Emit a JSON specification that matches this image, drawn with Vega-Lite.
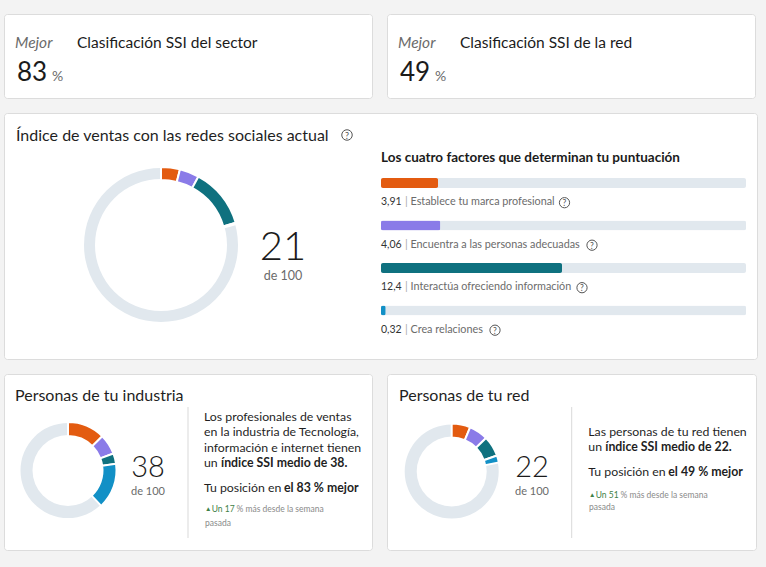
{
  "$schema": "https://vega.github.io/schema/vega-lite/v6.json",
  "background": "#f3f3f3",
  "padding": {"left": 3, "top": 13, "right": 10, "bottom": 17},
  "spacing": 13,
  "config": {
    "view": {"fill": "white", "stroke": "#dcdcdc", "cornerRadius": 3},
    "font": "Lato",
    "text": {"font": "Lato"},
    "locale": {"number": {"decimal": ",", "thousands": ".", "grouping": [3], "currency": ["", " €"]}}
  },
  "datasets": {
    "factores": [
      {"factor": "Establece tu marca profesional", "n": 1, "puntuacion": 3.91, "maximo": 25},
      {"factor": "Encuentra a las personas adecuadas", "n": 2, "puntuacion": 4.06, "maximo": 25},
      {"factor": "Interactúa ofreciendo información", "n": 3, "puntuacion": 12.4, "maximo": 25},
      {"factor": "Crea relaciones", "n": 4, "puntuacion": 0.32, "maximo": 25}
    ],
    "industria": [
      {"factor": "Establece tu marca profesional", "n": 1, "puntuacion": 12.5},
      {"factor": "Encuentra a las personas adecuadas", "n": 2, "puntuacion": 6.8},
      {"factor": "Interactúa ofreciendo información", "n": 3, "puntuacion": 3.5},
      {"factor": "Crea relaciones", "n": 4, "puntuacion": 15.2}
    ],
    "red": [
      {"factor": "Establece tu marca profesional", "n": 1, "puntuacion": 6.3},
      {"factor": "Encuentra a las personas adecuadas", "n": 2, "puntuacion": 6.4},
      {"factor": "Interactúa ofreciendo información", "n": 3, "puntuacion": 6.9},
      {"factor": "Crea relaciones", "n": 4, "puntuacion": 2.4}
    ]
  },
  "vconcat": [
    {
      "data": {"values": [
        {"tarjeta": "Clasificación SSI del sector", "etiqueta": "Mejor", "percentil": 83, "unidad": "%"},
        {"tarjeta": "Clasificación SSI de la red", "etiqueta": "Mejor", "percentil": 49, "unidad": "%"}
      ]},
      "facet": {"column": {"field": "tarjeta", "type": "nominal", "sort": ["Clasificación SSI del sector", "Clasificación SSI de la red"], "title": null, "header": {"labels": false, "title": null}}},
      "spacing": 13,
      "spec": {
        "width": 368, "height": 84,
        "layer": [
          {"mark": {"type": "text", "align": "left", "baseline": "alphabetic", "fontSize": 15.5, "fontStyle": "italic", "color": "#6b6b6b"},
           "encoding": {"x": {"value": 11}, "y": {"value": 34}, "text": {"field": "etiqueta"}}},
          {"mark": {"type": "text", "align": "left", "baseline": "alphabetic", "fontSize": 26, "color": "#1b1b1b"},
           "encoding": {"x": {"value": 13}, "y": {"value": 67}, "text": {"field": "percentil", "type": "quantitative"}}},
          {"mark": {"type": "text", "align": "left", "baseline": "alphabetic", "fontSize": 14, "color": "#6b6b6b"},
           "encoding": {"x": {"value": 48}, "y": {"value": 67}, "text": {"field": "unidad"}}},
          {"mark": {"type": "text", "align": "left", "baseline": "alphabetic", "fontSize": 15.5, "color": "#1b1b1b"},
           "encoding": {"x": {"value": 73}, "y": {"value": 34}, "text": {"field": "tarjeta"}}}
        ]
      }
    },
    {
      "width": 753, "height": 246,
      "data": {"name": "factores"},
      "layer": [
        {"data": {"values": [{"texto": "Índice de ventas con las redes sociales actual"}]},
         "mark": {"type": "text", "align": "left", "baseline": "alphabetic", "fontSize": 16, "color": "#1f1f1f"},
         "encoding": {"x": {"value": 12}, "y": {"value": 28}, "text": {"field": "texto"}}},
        {"data": {"values": [{"texto": "?"}]},
         "mark": {"type": "point", "shape": "circle", "filled": false, "size": 110, "stroke": "#555", "strokeWidth": 1, "opacity": 1},
         "encoding": {"x": {"value": 343}, "y": {"value": 22}}},
        {"data": {"values": [{"texto": "?"}]},
         "mark": {"type": "text", "align": "center", "baseline": "middle", "fontSize": 9, "color": "#555"},
         "encoding": {"x": {"value": 343}, "y": {"value": 22.5}, "text": {"field": "texto"}}},
        {"data": {"values": [{"total": 100}]},
         "mark": {"type": "arc", "theta": 0, "theta2": 6.2832, "outerRadius": 77, "innerRadius": 66, "color": "#e1e8ee"},
         "encoding": {"x": {"value": 157}, "y": {"value": 132}}},
        {"mark": {"type": "arc", "outerRadius": 78, "innerRadius": 65, "stroke": "white", "strokeWidth": 2},
         "encoding": {
           "x": {"value": 157}, "y": {"value": 132},
           "theta": {"field": "puntuacion", "type": "quantitative", "stack": true, "scale": {"domain": [0, 100]}},
           "order": {"field": "n", "type": "quantitative"},
           "color": {"field": "factor", "type": "nominal", "scale": {"domain": ["Establece tu marca profesional", "Encuentra a las personas adecuadas", "Interactúa ofreciendo información", "Crea relaciones"], "range": ["#e35b10", "#8a7be8", "#0f717f", "#1290c6"]}, "legend": null}
         }},
        {"data": {"values": [{"ssi": 21, "base": "de 100"}]},
         "mark": {"type": "text", "align": "center", "baseline": "alphabetic", "fontSize": 40, "fontWeight": 300, "color": "#1b1b1b"},
         "encoding": {"x": {"value": 279}, "y": {"value": 146.5}, "text": {"field": "ssi", "type": "quantitative"}}},
        {"data": {"values": [{"ssi": 21, "base": "de 100"}]},
         "mark": {"type": "text", "align": "center", "baseline": "alphabetic", "fontSize": 12.5, "color": "#6b6b6b"},
         "encoding": {"x": {"value": 279}, "y": {"value": 167}, "text": {"field": "base"}}},
        {"data": {"values": [{"texto": "Los cuatro factores que determinan tu puntuación"}]},
         "mark": {"type": "text", "align": "left", "baseline": "alphabetic", "fontSize": 13.5, "fontWeight": "bold", "color": "#1b1b1b"},
         "encoding": {"x": {"value": 377}, "y": {"value": 49}, "text": {"field": "texto"}}},
        {"mark": {"type": "bar", "height": 10, "cornerRadius": 2, "color": "#e1e8ee"},
         "encoding": {
           "x": {"field": "maximo", "type": "quantitative", "scale": {"domain": [0, 25], "range": [377, 742], "nice": false, "padding": 0}, "axis": null},
           "y": {"field": "factor", "type": "nominal", "scale": {"domain": ["Establece tu marca profesional", "Encuentra a las personas adecuadas", "Interactúa ofreciendo información", "Crea relaciones"], "range": [48.75, 218.75], "paddingInner": 0, "paddingOuter": 0}, "axis": null}
         }},
        {"mark": {"type": "bar", "height": 10, "cornerRadius": 2},
         "encoding": {
           "x": {"field": "puntuacion", "type": "quantitative"},
           "y": {"field": "factor", "type": "nominal"},
           "color": {"field": "factor", "type": "nominal", "legend": null}
         }},
        {"mark": {"type": "text", "align": "left", "baseline": "alphabetic", "fontSize": 10.5, "color": "#333", "dy": 22},
         "encoding": {"x": {"datum": 0, "type": "quantitative"}, "y": {"field": "factor", "type": "nominal"}, "text": {"field": "puntuacion", "type": "quantitative", "format": ".3"}}},
        {"mark": {"type": "text", "align": "left", "baseline": "alphabetic", "fontSize": 11, "color": "#aaa", "dy": 22, "dx": 24, "text": "|"},
         "encoding": {"x": {"datum": 0, "type": "quantitative"}, "y": {"field": "factor", "type": "nominal"}}},
        {"mark": {"type": "text", "align": "left", "baseline": "alphabetic", "fontSize": 10.8, "color": "#6b6b6b", "dy": 22, "dx": 29.5},
         "encoding": {"x": {"datum": 0, "type": "quantitative"}, "y": {"field": "factor", "type": "nominal"}, "text": {"field": "factor"}}},
        {"transform": [{"filter": {"field": "n", "equal": 1}}],
         "mark": {"type": "point", "shape": "circle", "filled": false, "size": 105, "stroke": "#555", "strokeWidth": 1, "opacity": 1, "xOffset": 183.5, "yOffset": 19.7},
         "encoding": {"x": {"datum": 0, "type": "quantitative"}, "y": {"field": "factor", "type": "nominal"}}},
        {"transform": [{"filter": {"field": "n", "equal": 2}}],
         "mark": {"type": "point", "shape": "circle", "filled": false, "size": 105, "stroke": "#555", "strokeWidth": 1, "opacity": 1, "xOffset": 211, "yOffset": 19.7},
         "encoding": {"x": {"datum": 0, "type": "quantitative"}, "y": {"field": "factor", "type": "nominal"}}},
        {"transform": [{"filter": {"field": "n", "equal": 3}}],
         "mark": {"type": "point", "shape": "circle", "filled": false, "size": 105, "stroke": "#555", "strokeWidth": 1, "opacity": 1, "xOffset": 201, "yOffset": 19.7},
         "encoding": {"x": {"datum": 0, "type": "quantitative"}, "y": {"field": "factor", "type": "nominal"}}},
        {"transform": [{"filter": {"field": "n", "equal": 4}}],
         "mark": {"type": "point", "shape": "circle", "filled": false, "size": 105, "stroke": "#555", "strokeWidth": 1, "opacity": 1, "xOffset": 114, "yOffset": 19.7},
         "encoding": {"x": {"datum": 0, "type": "quantitative"}, "y": {"field": "factor", "type": "nominal"}}},
        {"transform": [{"filter": {"field": "n", "equal": 1}}],
         "mark": {"type": "text", "align": "center", "baseline": "middle", "fontSize": 8.5, "color": "#555", "dx": 183.5, "dy": 20.2, "text": "?"},
         "encoding": {"x": {"datum": 0, "type": "quantitative"}, "y": {"field": "factor", "type": "nominal"}}},
        {"transform": [{"filter": {"field": "n", "equal": 2}}],
         "mark": {"type": "text", "align": "center", "baseline": "middle", "fontSize": 8.5, "color": "#555", "dx": 211, "dy": 20.2, "text": "?"},
         "encoding": {"x": {"datum": 0, "type": "quantitative"}, "y": {"field": "factor", "type": "nominal"}}},
        {"transform": [{"filter": {"field": "n", "equal": 3}}],
         "mark": {"type": "text", "align": "center", "baseline": "middle", "fontSize": 8.5, "color": "#555", "dx": 201, "dy": 20.2, "text": "?"},
         "encoding": {"x": {"datum": 0, "type": "quantitative"}, "y": {"field": "factor", "type": "nominal"}}},
        {"transform": [{"filter": {"field": "n", "equal": 4}}],
         "mark": {"type": "text", "align": "center", "baseline": "middle", "fontSize": 8.5, "color": "#555", "dx": 114, "dy": 20.2, "text": "?"},
         "encoding": {"x": {"datum": 0, "type": "quantitative"}, "y": {"field": "factor", "type": "nominal"}}}
      ]
    },
    {
      "spacing": 13,
      "hconcat": [
        {
          "width": 368, "height": 176,
          "data": {"name": "industria"},
          "layer": [
            {"data": {"values": [{"texto": "Personas de tu industria"}]},
             "mark": {"type": "text", "align": "left", "baseline": "alphabetic", "fontSize": 16, "color": "#1f1f1f"},
             "encoding": {"x": {"value": 11}, "y": {"value": 27}, "text": {"field": "texto"}}},
            {"data": {"values": [{"total": 100}]},
             "mark": {"type": "arc", "theta": 0, "theta2": 6.2832, "outerRadius": 47.5, "innerRadius": 35.5, "color": "#e1e8ee"},
             "encoding": {"x": {"value": 64}, "y": {"value": 96.5}}},
            {"mark": {"type": "arc", "outerRadius": 48.5, "innerRadius": 34.5, "stroke": "white", "strokeWidth": 2},
             "encoding": {
               "x": {"value": 64}, "y": {"value": 96.5},
               "theta": {"field": "puntuacion", "type": "quantitative", "stack": true, "scale": {"domain": [0, 100]}},
               "order": {"field": "n", "type": "quantitative"},
               "color": {"field": "factor", "type": "nominal", "scale": {"domain": ["Establece tu marca profesional", "Encuentra a las personas adecuadas", "Interactúa ofreciendo información", "Crea relaciones"], "range": ["#e35b10", "#8a7be8", "#0f717f", "#1290c6"]}, "legend": null}
             }},
            {"data": {"values": [{"ssi": 38, "base": "de 100"}]},
             "mark": {"type": "text", "align": "center", "baseline": "alphabetic", "fontSize": 29, "fontWeight": 300, "color": "#1b1b1b"},
             "encoding": {"x": {"value": 144}, "y": {"value": 103}, "text": {"field": "ssi", "type": "quantitative"}}},
            {"data": {"values": [{"ssi": 38, "base": "de 100"}]},
             "mark": {"type": "text", "align": "center", "baseline": "alphabetic", "fontSize": 11, "color": "#6b6b6b"},
             "encoding": {"x": {"value": 144}, "y": {"value": 120.5}, "text": {"field": "base"}}},
            {"data": {"values": [{}]},
             "mark": {"type": "rule", "color": "#d9d9d9", "strokeWidth": 1},
             "encoding": {"x": {"value": 184}, "y": {"value": 33}, "y2": {"value": 164}}},
            {"data": {"values": [{"texto": "Los profesionales de ventas\nen la industria de Tecnología,\ninformación e internet tienen"}]},
             "mark": {"type": "text", "align": "left", "baseline": "alphabetic", "fontSize": 12.3, "lineBreak": "\n", "lineHeight": 15.5, "color": "#1f1f1f"},
             "encoding": {"x": {"value": 200}, "y": {"value": 46.5}, "text": {"field": "texto"}}},
            {"data": {"values": [{"texto": "un"}]},
             "mark": {"type": "text", "align": "left", "baseline": "alphabetic", "fontSize": 12.3, "color": "#1f1f1f"},
             "encoding": {"x": {"value": 200}, "y": {"value": 93}, "text": {"field": "texto"}}},
            {"data": {"values": [{"texto": "índice SSI medio de 38."}]},
             "mark": {"type": "text", "align": "left", "baseline": "alphabetic", "fontSize": 12.3, "fontWeight": "bold", "color": "#1f1f1f"},
             "encoding": {"x": {"value": 217}, "y": {"value": 93}, "text": {"field": "texto"}}},
            {"data": {"values": [{"texto": "Tu posición en"}]},
             "mark": {"type": "text", "align": "left", "baseline": "alphabetic", "fontSize": 12.3, "color": "#1f1f1f"},
             "encoding": {"x": {"value": 200}, "y": {"value": 117.7}, "text": {"field": "texto"}}},
            {"data": {"values": [{"texto": "el 83 % mejor"}]},
             "mark": {"type": "text", "align": "left", "baseline": "alphabetic", "fontSize": 12.3, "fontWeight": "bold", "color": "#1f1f1f"},
             "encoding": {"x": {"value": 280}, "y": {"value": 117.7}, "text": {"field": "texto"}}},
            {"data": {"values": [{"texto": "▲"}]},
             "mark": {"type": "text", "align": "left", "baseline": "alphabetic", "fontSize": 6.5, "color": "#3f7f47"},
             "encoding": {"x": {"value": 201}, "y": {"value": 137}, "text": {"field": "texto"}}},
            {"data": {"values": [{"texto": "Un 17"}]},
             "mark": {"type": "text", "align": "left", "baseline": "alphabetic", "fontSize": 8.5, "color": "#3f7f47"},
             "encoding": {"x": {"value": 207.7}, "y": {"value": 138}, "text": {"field": "texto"}}},
            {"data": {"values": [{"texto": "% más desde la semana"}]},
             "mark": {"type": "text", "align": "left", "baseline": "alphabetic", "fontSize": 8.5, "color": "#8a8a8a"},
             "encoding": {"x": {"value": 232.5}, "y": {"value": 138}, "text": {"field": "texto"}}},
            {"data": {"values": [{"texto": "pasada"}]},
             "mark": {"type": "text", "align": "left", "baseline": "alphabetic", "fontSize": 8.5, "color": "#8a8a8a"},
             "encoding": {"x": {"value": 201}, "y": {"value": 152}, "text": {"field": "texto"}}}
          ]
        },
        {
          "width": 369, "height": 176,
          "data": {"name": "red"},
          "layer": [
            {"data": {"values": [{"texto": "Personas de tu red"}]},
             "mark": {"type": "text", "align": "left", "baseline": "alphabetic", "fontSize": 16, "color": "#1f1f1f"},
             "encoding": {"x": {"value": 12}, "y": {"value": 27}, "text": {"field": "texto"}}},
            {"data": {"values": [{"total": 100}]},
             "mark": {"type": "arc", "theta": 0, "theta2": 6.2832, "outerRadius": 47, "innerRadius": 35, "color": "#e1e8ee"},
             "encoding": {"x": {"value": 64.7}, "y": {"value": 97.5}}},
            {"mark": {"type": "arc", "outerRadius": 48, "innerRadius": 34, "stroke": "white", "strokeWidth": 2},
             "encoding": {
               "x": {"value": 64.7}, "y": {"value": 97.5},
               "theta": {"field": "puntuacion", "type": "quantitative", "stack": true, "scale": {"domain": [0, 100]}},
               "order": {"field": "n", "type": "quantitative"},
               "color": {"field": "factor", "type": "nominal", "scale": {"domain": ["Establece tu marca profesional", "Encuentra a las personas adecuadas", "Interactúa ofreciendo información", "Crea relaciones"], "range": ["#e35b10", "#8a7be8", "#0f717f", "#1290c6"]}, "legend": null}
             }},
            {"data": {"values": [{"ssi": 22, "base": "de 100"}]},
             "mark": {"type": "text", "align": "center", "baseline": "alphabetic", "fontSize": 29, "fontWeight": 300, "color": "#1b1b1b"},
             "encoding": {"x": {"value": 145}, "y": {"value": 103}, "text": {"field": "ssi", "type": "quantitative"}}},
            {"data": {"values": [{"ssi": 22, "base": "de 100"}]},
             "mark": {"type": "text", "align": "center", "baseline": "alphabetic", "fontSize": 11, "color": "#6b6b6b"},
             "encoding": {"x": {"value": 145}, "y": {"value": 120.5}, "text": {"field": "base"}}},
            {"data": {"values": [{}]},
             "mark": {"type": "rule", "color": "#d9d9d9", "strokeWidth": 1},
             "encoding": {"x": {"value": 184.7}, "y": {"value": 33}, "y2": {"value": 164}}},
            {"data": {"values": [{"texto": "Las personas de tu red tienen"}]},
             "mark": {"type": "text", "align": "left", "baseline": "alphabetic", "fontSize": 12.3, "color": "#1f1f1f"},
             "encoding": {"x": {"value": 201.3}, "y": {"value": 61.7}, "text": {"field": "texto"}}},
            {"data": {"values": [{"texto": "un"}]},
             "mark": {"type": "text", "align": "left", "baseline": "alphabetic", "fontSize": 12.3, "color": "#1f1f1f"},
             "encoding": {"x": {"value": 201.3}, "y": {"value": 76.7}, "text": {"field": "texto"}}},
            {"data": {"values": [{"texto": "índice SSI medio de 22."}]},
             "mark": {"type": "text", "align": "left", "baseline": "alphabetic", "fontSize": 12.3, "fontWeight": "bold", "color": "#1f1f1f"},
             "encoding": {"x": {"value": 218.3}, "y": {"value": 76.7}, "text": {"field": "texto"}}},
            {"data": {"values": [{"texto": "Tu posición en"}]},
             "mark": {"type": "text", "align": "left", "baseline": "alphabetic", "fontSize": 12.3, "color": "#1f1f1f"},
             "encoding": {"x": {"value": 201.3}, "y": {"value": 101.7}, "text": {"field": "texto"}}},
            {"data": {"values": [{"texto": "el 49 % mejor"}]},
             "mark": {"type": "text", "align": "left", "baseline": "alphabetic", "fontSize": 12.3, "fontWeight": "bold", "color": "#1f1f1f"},
             "encoding": {"x": {"value": 281.3}, "y": {"value": 101.7}, "text": {"field": "texto"}}},
            {"data": {"values": [{"texto": "▲"}]},
             "mark": {"type": "text", "align": "left", "baseline": "alphabetic", "fontSize": 6.5, "color": "#3f7f47"},
             "encoding": {"x": {"value": 202}, "y": {"value": 122.5}, "text": {"field": "texto"}}},
            {"data": {"values": [{"texto": "Un 51"}]},
             "mark": {"type": "text", "align": "left", "baseline": "alphabetic", "fontSize": 8.5, "color": "#3f7f47"},
             "encoding": {"x": {"value": 208.7}, "y": {"value": 123.5}, "text": {"field": "texto"}}},
            {"data": {"values": [{"texto": "% más desde la semana"}]},
             "mark": {"type": "text", "align": "left", "baseline": "alphabetic", "fontSize": 8.5, "color": "#8a8a8a"},
             "encoding": {"x": {"value": 233.5}, "y": {"value": 123.5}, "text": {"field": "texto"}}},
            {"data": {"values": [{"texto": "pasada"}]},
             "mark": {"type": "text", "align": "left", "baseline": "alphabetic", "fontSize": 8.5, "color": "#8a8a8a"},
             "encoding": {"x": {"value": 202}, "y": {"value": 136}, "text": {"field": "texto"}}}
          ]
        }
      ]
    }
  ]
}
